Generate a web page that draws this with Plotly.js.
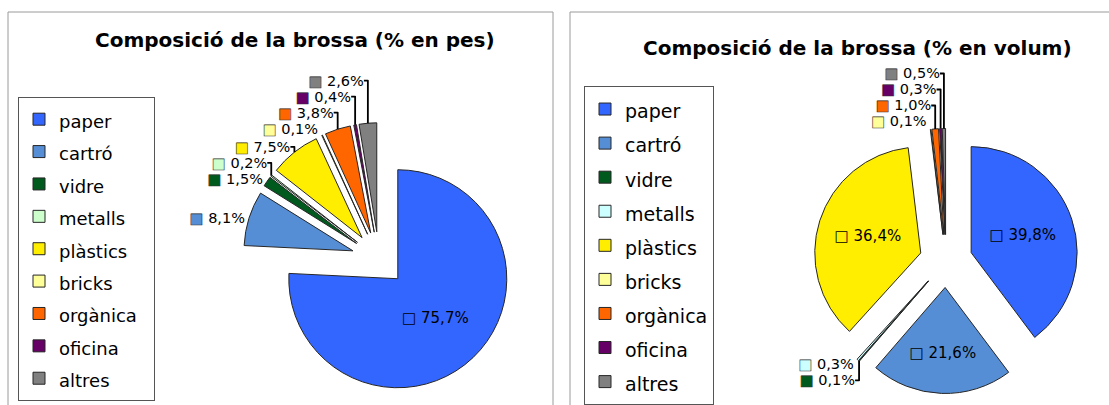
<!DOCTYPE html>
<html>
<head>
<meta charset="utf-8">
<script src="https://cdn.plot.ly/plotly-3.0.1.min.js"></script>
<style>
  body { margin: 0; overflow: hidden; background: #fff; }
</style>
</head>
<body>
<div id="chart" style="width:1109px;height:440px"></div>
<script>
// composició de la brossa, dues vistes: pes i volum
const categories = ['paper', 'cartró', 'vidre', 'metalls', 'plàstics', 'bricks', 'orgànica', 'oficina', 'altres'];
const pesValues = [75.7, 8.1, 1.5, 0.2, 7.5, 0.1, 3.8, 0.4, 2.6];
const volumValues = [39.8, 21.6, 0.1, 0.3, 36.4, 0.1, 1.0, 0.3, 0.5];
const pesColors = ['#3366ff', '#558ed5', '#005a1e', '#ccffcc', '#ffee00', '#ffff99', '#ff6600', '#660066', '#808080'];
const volumColors = ['#3366ff', '#558ed5', '#005a1e', '#ccffff', '#ffee00', '#ffff99', '#ff6600', '#660066', '#808080'];
const pesInside = ['paper'];
const volumInside = ['paper', 'cartró', 'plàstics'];

const W = 1109, H = 440;

function fmt(v) {
  return v.toFixed(1).replace('.', ',') + '%';
}

function sliceTexts(values, colors, inside) {
  return values.map((v, i) => {
    if (inside.includes(categories[i])) {
      return '□ ' + fmt(v);
    } else {
      return '<span style="color:' + colors[i] + ';stroke:#333;stroke-width:0.6px">■</span> ' + fmt(v);
    }
  });
}

// la llegenda fa servir una lletra més gran per separar les files,
// el text visible va dins un span més petit
function legendLabels(size, pad) {
  return categories.map((c) =>
    '<span style="font-size:' + size + 'px">' + c + '\u00a0'.repeat(pad) + '</span>');
}

function pieTrace(values, colors, inside, pull, domain, legend, labelSize, pad) {
  return {
    type: 'pie',
    labels: legendLabels(labelSize, pad),
    values: values,
    sort: false,
    direction: 'clockwise',
    rotation: 0,
    pull: pull,
    marker: { colors: colors, line: { color: '#262626', width: 1 } },
    text: sliceTexts(values, colors, inside),
    textinfo: 'text',
    textposition: categories.map((c) => inside.includes(c) ? 'inside' : 'outside'),
    insidetextorientation: 'horizontal',
    insidetextfont: { family: 'DejaVu Sans', size: 15, color: '#000' },
    outsidetextfont: { family: 'DejaVu Sans', size: 14.5, color: '#000' },
    hoverinfo: 'none',
    automargin: false,
    domain: domain,
    legend: legend
  };
}

// centre i radi llegits de la imatge, en píxels
function pieDomain(cx, cy, r, pull) {
  const half = r * (1 + pull);
  return {
    x: [(cx - half) / W, (cx + half) / W],
    y: [1 - (cy + half) / H, 1 - (cy - half) / H]
  };
}

const tracePes = pieTrace(pesValues, pesColors, pesInside, 0.25, pieDomain(379, 259, 109, 0.25), 'legend', 18, 2);
const traceVolum = pieTrace(volumValues, volumColors, volumInside, 0.25, pieDomain(946, 261, 106, 0.25), 'legend2', 19, 0);

const legendBase = {
  xanchor: 'left',
  yanchor: 'top',
  bgcolor: '#fff',
  bordercolor: '#555',
  borderwidth: 1,
  traceorder: 'normal'
};

const layout = {
  width: W,
  height: H,
  margin: { l: 0, r: 0, t: 0, b: 0 },
  paper_bgcolor: '#fff',
  font: { family: 'DejaVu Sans', color: '#000' },
  legend: Object.assign({}, legendBase, {
    x: 18 / W, y: 1 - 97 / H,
    font: { family: 'DejaVu Sans', size: 22.6, color: '#000' }
  }),
  legend2: Object.assign({}, legendBase, {
    x: 584 / W, y: 1 - 86 / H,
    font: { family: 'DejaVu Sans', size: 23.9, color: '#000' }
  }),
  shapes: [
    { type: 'rect', xref: 'paper', yref: 'paper', x0: 8 / W, x1: 553 / W, y0: -0.1, y1: 1 - 12 / H,
      line: { color: '#9a9a9a', width: 1 } },
    { type: 'rect', xref: 'paper', yref: 'paper', x0: 570 / W, x1: 1.1, y0: -0.1, y1: 1 - 12 / H,
      line: { color: '#9a9a9a', width: 1 } }
  ],
  annotations: [
    { text: 'Composició de la brossa (% en pes)', xref: 'paper', yref: 'paper',
      x: 295 / W, y: 1 - 40 / H, xanchor: 'center', yanchor: 'middle', showarrow: false,
      font: { family: 'DejaVu Sans', size: 20, weight: 'bold', color: '#000' } },
    { text: 'Composició de la brossa (% en volum)', xref: 'paper', yref: 'paper',
      x: 857 / W, y: 1 - 48 / H, xanchor: 'center', yanchor: 'middle', showarrow: false,
      font: { family: 'DejaVu Sans', size: 20, weight: 'bold', color: '#000' } }
  ]
};

Plotly.newPlot('chart', [tracePes, traceVolum], layout, { staticPlot: true });
</script>
</body>
</html>
